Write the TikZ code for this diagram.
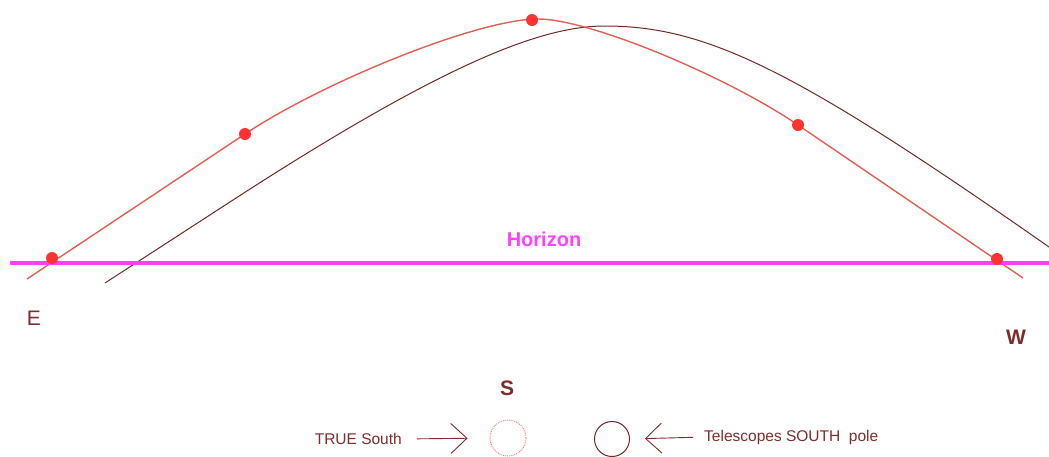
\documentclass[tikz,border=0pt]{standalone}
\usepackage{fontspec}
\setmainfont{Liberation Sans}
\usetikzlibrary{arrows.meta}
\definecolor{txtbrown}{RGB}{128,44,44}
\definecolor{curvebrown}{RGB}{112,40,40}
\definecolor{curvered}{RGB}{225,95,85}
\definecolor{dotred}{RGB}{255,50,50}
\definecolor{hmag}{RGB}{255,64,255}
\definecolor{lightred}{RGB}{230,120,120}
\tikzset{
  lbl/.style={text=txtbrown, inner sep=0pt, font=\fontsize{21}{24}\selectfont},
  small/.style={text=txtbrown, inner sep=0pt, font=\fontsize{15.5}{18}\selectfont},
  sundot/.style={circle, fill=dotred, draw=none, minimum size=12pt, inner sep=0pt},
  truesouth/.style={circle, draw=lightred, densely dotted, line width=0.9pt, minimum size=36pt, inner sep=0pt},
  telsouth/.style={circle, draw=curvebrown, line width=1pt, minimum size=35pt, inner sep=0pt},
  arr/.style={draw=txtbrown, line width=0.9pt, -{Straight Barb[length=16pt,width=30pt,line width=0.9pt]}},
}
\begin{document}
\begin{tikzpicture}[x=1pt,y=-1pt]
\useasboundingbox (0,0) rectangle (1049,456);
% telescope path (brown)
\draw[curvebrown, line width=1pt] (105,283) -- (233,200)
  .. controls (447.8,60.8) and (543,26) .. (605,26)
  .. controls (707,26) and (796,70) .. (1049,247);
% star path (red)
\draw[curvered, line width=1.4pt] (27,279) -- (245,134)
  .. controls (323,82) and (478,19) .. (538,19)
  .. controls (590,19) and (728,77) .. (798,125)
  -- (1023,278);
% horizon
\coordinate (hL) at (10,263);
\coordinate (hR) at (1049,263);
\draw[hmag, line width=4pt] (hL) -- (hR);
\node[text=hmag, inner sep=0pt, font=\bfseries\fontsize{20}{24}\selectfont] (hz) at (544,239) {Horizon};
% dots
\node[sundot] (d1) at (52,258) {};
\node[sundot] (d2) at (245,134) {};
\node[sundot] (d3) at (532,20) {};
\node[sundot] (d4) at (798,125) {};
\node[sundot] (d5) at (997,259) {};
% compass labels
\node[lbl] (E) at (34,318) {E};
\node[lbl, font=\bfseries\fontsize{21}{24}\selectfont] (W) at (1016,337) {W};
\node[lbl, font=\bfseries\fontsize{21}{24}\selectfont] (S) at (507,388) {S};
% bottom
\node[small, anchor=east] (ts) at (402,439) {TRUE South};
\node[truesouth] (tc) at (508,438) {};
\node[telsouth] (pc) at (612,439) {};
\node[small, anchor=west] (tel) at (704,437) {Telescopes SOUTH\ \ pole};
\draw[arr, shorten <=15pt, shorten >=22pt] (ts.east) -- (tc.west);
\draw[arr, shorten <=11pt, shorten >=15pt] (tel.west) -- (pc.east);
\end{tikzpicture}
\end{document}
